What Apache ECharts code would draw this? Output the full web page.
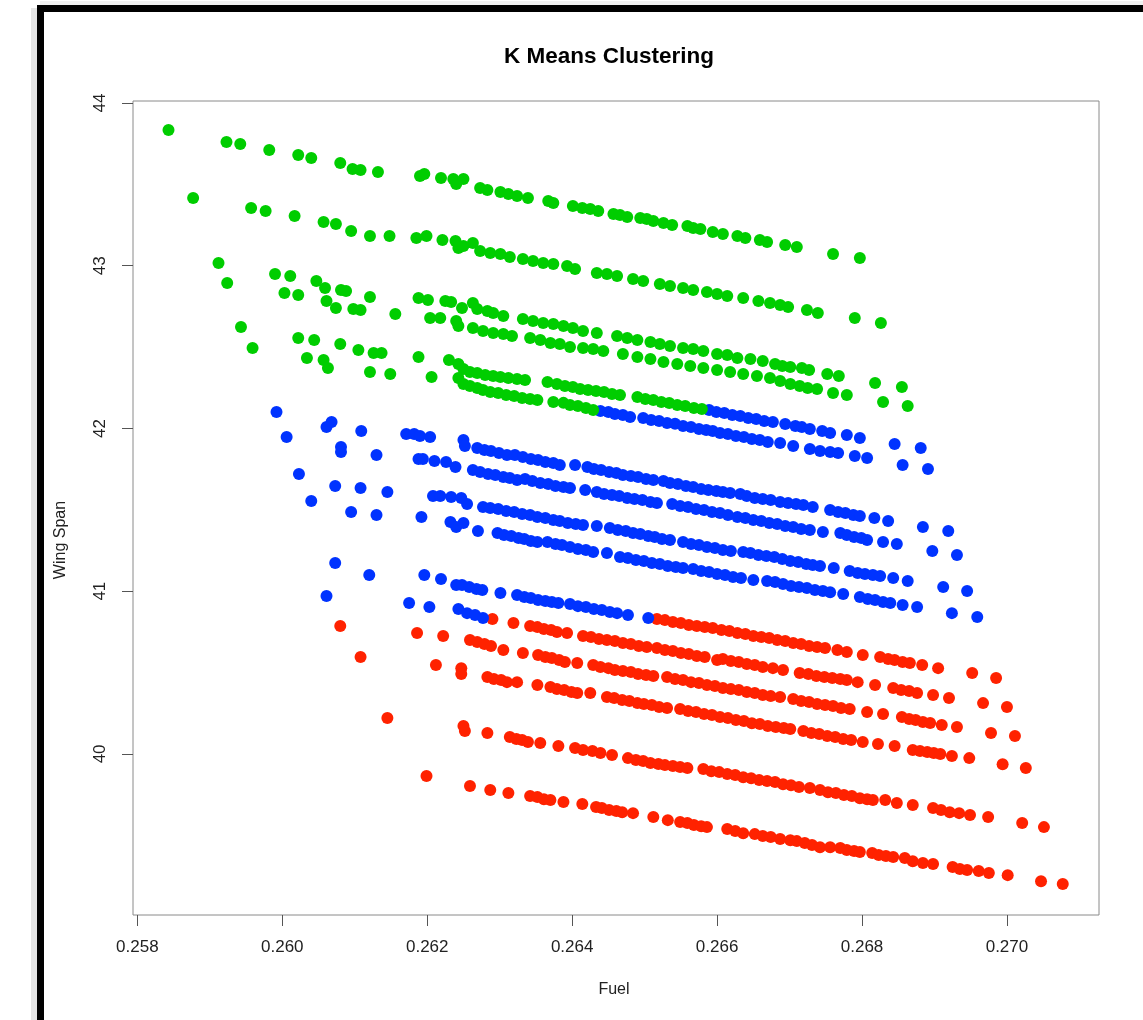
<!DOCTYPE html>
<html>
<head>
<meta charset="utf-8">
<script src="https://cdn.jsdelivr.net/npm/echarts@6/dist/echarts.min.js"></script>
<style>
html,body{margin:0;padding:0;background:#fff;}
#chart{width:1143px;height:1020px;}
</style>
</head>
<body>
<div id="chart"></div>
<script>
// ---- tick labels ----
const xTicks = [0.258, 0.260, 0.262, 0.264, 0.266, 0.268, 0.270];
const yTicks = [40, 41, 42, 43, 44];
const xMin = 0.25794, xMax = 0.27127;
const yMin = 39.010, yMax = 44.012;

// ---- cluster 3 (green) rows : [Fuel, Wing Span] ----
const greenRow1 = [[0.25843,43.834],[0.25923,43.760],[0.25942,43.748],[0.25982,43.711],[0.26022,43.680],[0.26040,43.662],[0.26080,43.631],[0.26097,43.594],[0.26108,43.588],[0.26132,43.576],[0.26190,43.551],[0.26196,43.564],[0.26219,43.539],[0.26236,43.533],[0.26240,43.502],[0.26250,43.533],[0.26273,43.478],[0.26283,43.465],[0.26301,43.453],[0.26312,43.441],[0.26324,43.428],[0.26339,43.416],[0.26367,43.398],[0.26374,43.385],[0.26401,43.367],[0.26414,43.355],[0.26425,43.348],[0.26436,43.336],[0.26457,43.318],[0.26466,43.312],[0.26476,43.299],[0.26494,43.293],[0.26503,43.287],[0.26512,43.275],[0.26526,43.262],[0.26538,43.250],[0.26559,43.244],[0.26567,43.232],[0.26577,43.226],[0.26594,43.207],[0.26608,43.195],[0.26628,43.183],[0.26639,43.170],[0.26659,43.158],[0.26669,43.146],[0.26694,43.127],[0.26710,43.115],[0.26760,43.072],[0.26797,43.047]];
const greenRow2 = [[0.25877,43.416],[0.25957,43.355],[0.25977,43.336],[0.26017,43.305],[0.26057,43.269],[0.26074,43.256],[0.26095,43.213],[0.26121,43.183],[0.26148,43.183],[0.26185,43.170],[0.26199,43.183],[0.26221,43.158],[0.26239,43.152],[0.26243,43.109],[0.26250,43.121],[0.26263,43.140],[0.26273,43.090],[0.26287,43.078],[0.26301,43.072],[0.26314,43.053],[0.26332,43.041],[0.26346,43.029],[0.26360,43.017],[0.26374,43.010],[0.26393,42.998],[0.26404,42.980],[0.26434,42.955],[0.26448,42.949],[0.26462,42.937],[0.26484,42.918],[0.26498,42.906],[0.26521,42.888],[0.26535,42.875],[0.26553,42.863],[0.26567,42.851],[0.26586,42.838],[0.26600,42.826],[0.26614,42.814],[0.26636,42.802],[0.26657,42.783],[0.26673,42.771],[0.26687,42.759],[0.26698,42.746],[0.26724,42.728],[0.26739,42.709],[0.26790,42.679],[0.26826,42.648]];
const greenRow3 = [[0.25912,43.017],[0.25990,42.949],[0.26011,42.937],[0.26047,42.906],[0.26059,42.863],[0.26081,42.851],[0.26088,42.845],[0.26121,42.808],[0.26188,42.802],[0.26201,42.789],[0.26225,42.783],[0.26233,42.777],[0.26248,42.740],[0.26263,42.771],[0.26269,42.734],[0.26283,42.722],[0.26291,42.709],[0.26305,42.691],[0.26332,42.672],[0.26346,42.660],[0.26360,42.648],[0.26374,42.642],[0.26388,42.629],[0.26401,42.617],[0.26415,42.599],[0.26434,42.586],[0.26462,42.568],[0.26476,42.555],[0.26490,42.543],[0.26508,42.531],[0.26521,42.519],[0.26535,42.506],[0.26553,42.494],[0.26567,42.488],[0.26581,42.476],[0.26600,42.457],[0.26614,42.451],[0.26628,42.433],[0.26646,42.427],[0.26663,42.414],[0.26680,42.396],[0.26690,42.384],[0.26701,42.377],[0.26717,42.371],[0.26727,42.359],[0.26752,42.334],[0.26768,42.322],[0.26818,42.279],[0.26855,42.255]];
const greenRow4 = [[0.25924,42.894],[0.26003,42.832],[0.26022,42.820],[0.26061,42.783],[0.26074,42.740],[0.26098,42.734],[0.26108,42.728],[0.26156,42.703],[0.26204,42.679],[0.26218,42.679],[0.26240,42.660],[0.26243,42.629],[0.26263,42.617],[0.26277,42.599],[0.26291,42.586],[0.26305,42.580],[0.26317,42.568],[0.26342,42.555],[0.26356,42.543],[0.26370,42.525],[0.26383,42.519],[0.26397,42.500],[0.26415,42.494],[0.26429,42.488],[0.26443,42.476],[0.26470,42.457],[0.26490,42.439],[0.26508,42.427],[0.26526,42.408],[0.26545,42.396],[0.26563,42.384],[0.26581,42.371],[0.26600,42.359],[0.26618,42.347],[0.26636,42.334],[0.26655,42.322],[0.26673,42.310],[0.26687,42.292],[0.26701,42.273],[0.26714,42.261],[0.26725,42.248],[0.26738,42.242],[0.26760,42.218],[0.26779,42.205],[0.26829,42.162],[0.26863,42.138]];
const greenRow5 = [[0.25943,42.623],[0.26022,42.556],[0.26044,42.543],[0.26080,42.519],[0.26105,42.482],[0.26126,42.463],[0.26137,42.463],[0.26188,42.439],[0.26230,42.420],[0.26243,42.396],[0.26250,42.365],[0.26259,42.347],[0.26269,42.341],[0.26280,42.328],[0.26291,42.322],[0.26301,42.316],[0.26312,42.310],[0.26324,42.304],[0.26335,42.298],[0.26366,42.285],[0.26379,42.273],[0.26390,42.261],[0.26401,42.255],[0.26411,42.242],[0.26422,42.236],[0.26433,42.230],[0.26444,42.224],[0.26455,42.212],[0.26466,42.205],[0.26490,42.193],[0.26501,42.181],[0.26512,42.175],[0.26523,42.162],[0.26534,42.156],[0.26545,42.144],[0.26556,42.138],[0.26568,42.125],[0.26579,42.119]];
const greenRow6 = [[0.25959,42.494],[0.26034,42.433],[0.26057,42.420],[0.26063,42.371],[0.26121,42.347],[0.26149,42.334],[0.26206,42.316],[0.26243,42.310],[0.26250,42.273],[0.26259,42.261],[0.26269,42.248],[0.26277,42.236],[0.26287,42.224],[0.26298,42.218],[0.26309,42.206],[0.26320,42.199],[0.26331,42.187],[0.26342,42.181],[0.26352,42.175],[0.26374,42.163],[0.26388,42.157],[0.26397,42.144],[0.26408,42.138],[0.26419,42.126],[0.26429,42.113]];

// ---- cluster 2 (blue) rows ----
const blueRow1 = [[0.26589,42.113],[0.26599,42.101],[0.26610,42.095],[0.26621,42.082],[0.26632,42.076],[0.26643,42.064],[0.26654,42.058],[0.26665,42.045],[0.26677,42.039],[0.26694,42.027],[0.26708,42.015],[0.26717,42.008],[0.26728,41.996],[0.26745,41.984],[0.26756,41.972],[0.26779,41.959],[0.26797,41.941],[0.26845,41.904],[0.26881,41.880]];
const blueRow2 = [[0.26439,42.107],[0.26450,42.101],[0.26459,42.089],[0.26470,42.083],[0.26480,42.070],[0.26498,42.064],[0.26509,42.052],[0.26520,42.046],[0.26531,42.034],[0.26542,42.028],[0.26553,42.015],[0.26564,42.009],[0.26575,41.997],[0.26585,41.990],[0.26594,41.984],[0.26604,41.972],[0.26615,41.966],[0.26626,41.953],[0.26637,41.947],[0.26648,41.935],[0.26659,41.929],[0.26670,41.917],[0.26687,41.910],[0.26705,41.892],[0.26728,41.873],[0.26742,41.861],[0.26756,41.855],[0.26767,41.849],[0.26790,41.830],[0.26807,41.818],[0.26856,41.775],[0.26891,41.751]];
const blueRow3 = [[0.25992,42.101],[0.26061,42.009],[0.26068,42.040],[0.26109,41.984],[0.26171,41.966],[0.26182,41.966],[0.26190,41.953],[0.26204,41.947],[0.26250,41.929],[0.26252,41.892],[0.26269,41.880],[0.26279,41.868],[0.26288,41.861],[0.26299,41.849],[0.26310,41.837],[0.26321,41.837],[0.26332,41.825],[0.26343,41.812],[0.26353,41.806],[0.26363,41.794],[0.26374,41.788],[0.26383,41.775],[0.26404,41.775],[0.26421,41.763],[0.26430,41.751],[0.26440,41.744],[0.26451,41.732],[0.26461,41.726],[0.26470,41.714],[0.26481,41.707],[0.26491,41.701],[0.26502,41.689],[0.26512,41.683],[0.26526,41.677],[0.26535,41.664],[0.26546,41.658],[0.26557,41.646],[0.26567,41.640],[0.26578,41.627],[0.26588,41.621],[0.26599,41.615],[0.26608,41.609],[0.26618,41.603],[0.26632,41.597],[0.26641,41.584],[0.26652,41.572],[0.26663,41.566],[0.26674,41.560],[0.26687,41.548],[0.26698,41.541],[0.26709,41.535],[0.26719,41.529],[0.26732,41.517],[0.26756,41.499],[0.26767,41.486],[0.26777,41.480],[0.26788,41.468],[0.26797,41.462],[0.26817,41.449],[0.26836,41.431],[0.26884,41.394],[0.26919,41.370]];
const blueRow4 = [[0.26006,41.947],[0.26081,41.886],[0.26081,41.855],[0.26130,41.837],[0.26188,41.812],[0.26194,41.812],[0.26210,41.800],[0.26226,41.794],[0.26239,41.763],[0.26263,41.745],[0.26273,41.732],[0.26284,41.720],[0.26294,41.714],[0.26305,41.701],[0.26314,41.695],[0.26324,41.683],[0.26335,41.689],[0.26345,41.677],[0.26356,41.665],[0.26367,41.658],[0.26377,41.646],[0.26388,41.640],[0.26397,41.634],[0.26418,41.622],[0.26434,41.609],[0.26444,41.597],[0.26455,41.591],[0.26465,41.585],[0.26476,41.572],[0.26486,41.566],[0.26497,41.560],[0.26508,41.548],[0.26517,41.542],[0.26538,41.535],[0.26549,41.523],[0.26560,41.517],[0.26571,41.505],[0.26582,41.498],[0.26593,41.486],[0.26604,41.480],[0.26615,41.468],[0.26628,41.456],[0.26639,41.449],[0.26650,41.437],[0.26661,41.431],[0.26672,41.419],[0.26683,41.413],[0.26694,41.400],[0.26705,41.394],[0.26716,41.382],[0.26728,41.376],[0.26746,41.363],[0.26770,41.357],[0.26779,41.345],[0.26789,41.333],[0.26799,41.326],[0.26807,41.314],[0.26829,41.302],[0.26848,41.290],[0.26897,41.247],[0.26931,41.222]];
const blueRow5 = [[0.26023,41.720],[0.26073,41.646],[0.26108,41.634],[0.26145,41.609],[0.26208,41.585],[0.26218,41.585],[0.26233,41.579],[0.26247,41.572],[0.26255,41.535],[0.26277,41.517],[0.26287,41.511],[0.26298,41.505],[0.26309,41.492],[0.26320,41.486],[0.26331,41.474],[0.26342,41.468],[0.26352,41.456],[0.26363,41.449],[0.26374,41.437],[0.26383,41.431],[0.26394,41.419],[0.26405,41.413],[0.26415,41.406],[0.26434,41.400],[0.26452,41.388],[0.26463,41.376],[0.26474,41.370],[0.26484,41.357],[0.26494,41.351],[0.26505,41.339],[0.26514,41.333],[0.26524,41.320],[0.26535,41.314],[0.26553,41.302],[0.26564,41.290],[0.26575,41.283],[0.26586,41.271],[0.26597,41.265],[0.26608,41.253],[0.26619,41.247],[0.26636,41.241],[0.26646,41.234],[0.26657,41.222],[0.26668,41.216],[0.26679,41.210],[0.26690,41.197],[0.26701,41.185],[0.26712,41.179],[0.26723,41.167],[0.26732,41.160],[0.26742,41.154],[0.26761,41.142],[0.26783,41.124],[0.26794,41.111],[0.26804,41.105],[0.26815,41.099],[0.26825,41.093],[0.26843,41.081],[0.26863,41.062],[0.26912,41.025],[0.26945,41.001]];
const blueRow6 = [[0.26040,41.554],[0.26095,41.486],[0.26130,41.468],[0.26192,41.456],[0.26232,41.425],[0.26240,41.394],[0.26250,41.419],[0.26270,41.370],[0.26297,41.357],[0.26306,41.345],[0.26316,41.339],[0.26326,41.327],[0.26334,41.320],[0.26343,41.308],[0.26352,41.302],[0.26366,41.302],[0.26377,41.290],[0.26386,41.284],[0.26397,41.271],[0.26408,41.259],[0.26419,41.253],[0.26429,41.241],[0.26448,41.235],[0.26466,41.210],[0.26477,41.204],[0.26488,41.191],[0.26499,41.185],[0.26510,41.173],[0.26521,41.167],[0.26532,41.155],[0.26543,41.148],[0.26553,41.142],[0.26567,41.136],[0.26578,41.124],[0.26589,41.118],[0.26600,41.105],[0.26611,41.099],[0.26622,41.087],[0.26633,41.081],[0.26650,41.068],[0.26669,41.062],[0.26680,41.056],[0.26691,41.044],[0.26702,41.031],[0.26713,41.025],[0.26724,41.019],[0.26735,41.007],[0.26746,41.001],[0.26756,40.994],[0.26774,40.982],[0.26797,40.964],[0.26808,40.952],[0.26818,40.945],[0.26829,40.933],[0.26839,40.927],[0.26856,40.915],[0.26876,40.902],[0.26924,40.865],[0.26959,40.841]];
const blueRow7 = [[0.26073,41.173],[0.26120,41.099],[0.26196,41.099],[0.26219,41.075],[0.26240,41.038],[0.26248,41.038],[0.26258,41.025],[0.26268,41.013],[0.26276,41.007],[0.26301,40.988],[0.26324,40.976],[0.26334,40.964],[0.26343,40.958],[0.26353,40.945],[0.26363,40.939],[0.26372,40.933],[0.26381,40.927],[0.26397,40.921],[0.26408,40.908],[0.26419,40.902],[0.26430,40.890],[0.26441,40.884],[0.26452,40.872],[0.26462,40.865],[0.26477,40.853],[0.26505,40.835]];
const blueRow8 = [[0.26061,40.970],[0.26175,40.927],[0.26203,40.902],[0.26243,40.890],[0.26255,40.865],[0.26266,40.853],[0.26277,40.835]];

// ---- cluster 1 (red) rows ----
const redRow1 = [[0.26517,40.829],[0.26528,40.822],[0.26539,40.810],[0.26550,40.804],[0.26561,40.792],[0.26572,40.786],[0.26583,40.780],[0.26594,40.774],[0.26606,40.761],[0.26617,40.755],[0.26628,40.743],[0.26639,40.737],[0.26650,40.724],[0.26661,40.718],[0.26672,40.712],[0.26683,40.700],[0.26694,40.694],[0.26705,40.681],[0.26716,40.675],[0.26727,40.663],[0.26738,40.657],[0.26749,40.650],[0.26766,40.638],[0.26779,40.626],[0.26801,40.607],[0.26825,40.595],[0.26836,40.583],[0.26845,40.577],[0.26856,40.564],[0.26866,40.558],[0.26883,40.546],[0.26905,40.527],[0.26952,40.497],[0.26985,40.466]];
const redRow2 = [[0.26290,40.829],[0.26319,40.804],[0.26342,40.786],[0.26352,40.779],[0.26361,40.767],[0.26371,40.761],[0.26379,40.749],[0.26393,40.743],[0.26415,40.724],[0.26426,40.718],[0.26437,40.706],[0.26448,40.700],[0.26459,40.694],[0.26470,40.681],[0.26481,40.675],[0.26492,40.663],[0.26503,40.657],[0.26517,40.650],[0.26528,40.638],[0.26539,40.632],[0.26550,40.620],[0.26561,40.614],[0.26572,40.601],[0.26583,40.595],[0.26600,40.577],[0.26608,40.583],[0.26619,40.571],[0.26630,40.564],[0.26641,40.552],[0.26652,40.546],[0.26663,40.534],[0.26677,40.527],[0.26691,40.515],[0.26714,40.497],[0.26726,40.491],[0.26737,40.478],[0.26748,40.472],[0.26759,40.466],[0.26770,40.460],[0.26779,40.454],[0.26794,40.441],[0.26818,40.423],[0.26843,40.405],[0.26854,40.392],[0.26865,40.386],[0.26876,40.374],[0.26898,40.362],[0.26920,40.343],[0.26967,40.312],[0.27000,40.288]];
const redRow3 = [[0.26080,40.786],[0.26186,40.743],[0.26222,40.724],[0.26259,40.700],[0.26269,40.687],[0.26279,40.675],[0.26288,40.663],[0.26305,40.638],[0.26332,40.620],[0.26353,40.607],[0.26363,40.595],[0.26372,40.589],[0.26382,40.577],[0.26390,40.564],[0.26407,40.558],[0.26429,40.546],[0.26439,40.534],[0.26450,40.527],[0.26459,40.515],[0.26470,40.509],[0.26481,40.503],[0.26491,40.491],[0.26502,40.485],[0.26512,40.478],[0.26531,40.472],[0.26542,40.460],[0.26553,40.454],[0.26564,40.441],[0.26575,40.435],[0.26586,40.423],[0.26597,40.417],[0.26608,40.405],[0.26619,40.398],[0.26630,40.392],[0.26641,40.380],[0.26652,40.374],[0.26663,40.362],[0.26674,40.355],[0.26687,40.349],[0.26705,40.337],[0.26716,40.325],[0.26727,40.319],[0.26738,40.306],[0.26749,40.300],[0.26760,40.294],[0.26771,40.282],[0.26783,40.276],[0.26807,40.257],[0.26829,40.245],[0.26855,40.227],[0.26865,40.214],[0.26874,40.208],[0.26884,40.196],[0.26894,40.190],[0.26910,40.177],[0.26931,40.165],[0.26978,40.128],[0.27011,40.110]];
const redRow4 = [[0.26108,40.595],[0.26212,40.546],[0.26247,40.527],[0.26247,40.491],[0.26283,40.472],[0.26292,40.460],[0.26302,40.454],[0.26310,40.441],[0.26324,40.441],[0.26352,40.423],[0.26370,40.411],[0.26379,40.398],[0.26389,40.392],[0.26399,40.380],[0.26407,40.374],[0.26425,40.374],[0.26448,40.349],[0.26458,40.343],[0.26469,40.331],[0.26479,40.325],[0.26490,40.312],[0.26499,40.306],[0.26510,40.300],[0.26520,40.288],[0.26531,40.282],[0.26549,40.276],[0.26560,40.263],[0.26571,40.257],[0.26582,40.245],[0.26593,40.239],[0.26604,40.226],[0.26615,40.220],[0.26626,40.208],[0.26637,40.202],[0.26648,40.189],[0.26659,40.183],[0.26670,40.171],[0.26681,40.165],[0.26692,40.159],[0.26701,40.153],[0.26719,40.140],[0.26730,40.128],[0.26741,40.122],[0.26752,40.110],[0.26763,40.104],[0.26774,40.091],[0.26785,40.085],[0.26801,40.073],[0.26822,40.061],[0.26845,40.048],[0.26870,40.024],[0.26880,40.018],[0.26890,40.011],[0.26899,40.005],[0.26908,39.999],[0.26924,39.987],[0.26948,39.974],[0.26994,39.937],[0.27026,39.913]];
const redRow5 = [[0.26145,40.220],[0.26250,40.171],[0.26252,40.140],[0.26283,40.128],[0.26314,40.104],[0.26323,40.091],[0.26331,40.085],[0.26339,40.073],[0.26356,40.067],[0.26381,40.048],[0.26404,40.036],[0.26415,40.024],[0.26428,40.018],[0.26439,40.005],[0.26455,39.993],[0.26477,39.974],[0.26488,39.962],[0.26498,39.956],[0.26508,39.944],[0.26519,39.938],[0.26528,39.931],[0.26539,39.925],[0.26549,39.919],[0.26559,39.913],[0.26581,39.907],[0.26592,39.894],[0.26603,39.888],[0.26614,39.876],[0.26625,39.870],[0.26636,39.857],[0.26647,39.851],[0.26658,39.839],[0.26669,39.833],[0.26680,39.827],[0.26691,39.814],[0.26702,39.808],[0.26713,39.796],[0.26728,39.790],[0.26742,39.778],[0.26753,39.765],[0.26764,39.759],[0.26775,39.747],[0.26786,39.741],[0.26797,39.728],[0.26807,39.722],[0.26815,39.716],[0.26832,39.716],[0.26848,39.698],[0.26870,39.686],[0.26898,39.667],[0.26909,39.655],[0.26921,39.642],[0.26934,39.636],[0.26949,39.624],[0.26974,39.612],[0.27021,39.575],[0.27051,39.550]];
const redRow6 = [[0.26199,39.864],[0.26259,39.802],[0.26287,39.778],[0.26312,39.759],[0.26342,39.741],[0.26352,39.735],[0.26361,39.722],[0.26370,39.716],[0.26388,39.704],[0.26414,39.692],[0.26433,39.673],[0.26441,39.667],[0.26451,39.655],[0.26461,39.649],[0.26469,39.642],[0.26484,39.636],[0.26512,39.612],[0.26532,39.593],[0.26549,39.581],[0.26559,39.575],[0.26568,39.563],[0.26578,39.556],[0.26586,39.550],[0.26614,39.538],[0.26625,39.526],[0.26636,39.513],[0.26652,39.507],[0.26663,39.495],[0.26674,39.489],[0.26687,39.477],[0.26701,39.470],[0.26710,39.464],[0.26721,39.452],[0.26731,39.440],[0.26742,39.427],[0.26756,39.427],[0.26770,39.421],[0.26779,39.409],[0.26789,39.403],[0.26797,39.397],[0.26814,39.391],[0.26823,39.378],[0.26833,39.372],[0.26843,39.366],[0.26859,39.360],[0.26870,39.341],[0.26884,39.329],[0.26898,39.323],[0.26925,39.305],[0.26935,39.292],[0.26945,39.286],[0.26961,39.280],[0.26975,39.268],[0.27001,39.255],[0.27047,39.218],[0.27077,39.200]];

const greenPts = [].concat(greenRow1, greenRow2, greenRow3, greenRow4, greenRow5, greenRow6);
const bluePts = [].concat(blueRow1, blueRow2, blueRow3, blueRow4, blueRow5, blueRow6, blueRow7, blueRow8);
const redPts = [].concat(redRow1, redRow2, redRow3, redRow4, redRow5, redRow6);

const FONT = '"Liberation Sans", Arial, Helvetica, sans-serif';
const chart = echarts.init(document.getElementById('chart'), null, {renderer: 'canvas'});

const mkSeries = (name, data, color) => ({
  name, type: 'scatter', data, symbol: 'circle', symbolSize: 12,
  itemStyle: {color: color, opacity: 1}, silent: true, animation: false
});

chart.setOption({
  animation: false,
  backgroundColor: '#ffffff',
  grid: {left: 133, top: 101, right: 44, bottom: 105, show: true, borderColor: '#8a8a8a', borderWidth: 1, containLabel: false},
  xAxis: {
    type: 'value', min: xMin, max: xMax,
    axisLine: {show: false},
    splitLine: {show: false},
    axisTick: {show: true, length: 11, customValues: xTicks, lineStyle: {color: '#555', width: 1}},
    axisLabel: {customValues: xTicks, margin: 24, fontSize: 17, fontFamily: FONT, color: '#222',
      formatter: v => Number(v).toFixed(3)}
  },
  yAxis: {
    type: 'value', min: yMin, max: yMax,
    axisLine: {show: false},
    splitLine: {show: false},
    axisTick: {show: true, length: 11, customValues: yTicks, lineStyle: {color: '#555', width: 1}},
    axisLabel: {customValues: yTicks, margin: 24, rotate: 90, fontSize: 17, fontFamily: FONT, color: '#222',
      formatter: v => String(Math.round(v))}
  },
  series: [
    mkSeries('Cluster 1', redPts, '#ff2200'),
    mkSeries('Cluster 2', bluePts, '#0033ff'),
    mkSeries('Cluster 3', greenPts, '#00cd00')
  ],
  graphic: [
    {type: 'rect', silent: true, shape: {x: 31, y: 8, width: 6, height: 1012}, style: {fill: 'rgba(0,0,0,0.10)'}},
    {type: 'rect', silent: true, shape: {x: 40, y: 1, width: 1103, height: 4}, style: {fill: 'rgba(0,0,0,0.06)'}},
    {type: 'rect', silent: true, shape: {x: 37, y: 5, width: 1106, height: 7}, style: {fill: '#000'}},
    {type: 'rect', silent: true, shape: {x: 37, y: 5, width: 7, height: 1015}, style: {fill: '#000'}},
    {type: 'text', silent: true, x: 609, y: 57,
      style: {text: 'K Means Clustering', fontSize: 22.5, fontWeight: 'bold', fontFamily: FONT, fill: '#000', align: 'center', verticalAlign: 'middle'}},
    {type: 'text', silent: true, x: 614, y: 990,
      style: {text: 'Fuel', fontSize: 16, fontFamily: FONT, fill: '#222', align: 'center', verticalAlign: 'middle'}},
    {type: 'text', silent: true, x: 61, y: 540, rotation: Math.PI / 2,
      style: {text: 'Wing Span', fontSize: 16, fontFamily: FONT, fill: '#222', align: 'center', verticalAlign: 'middle'}}
  ]
});
</script>
</body>
</html>
